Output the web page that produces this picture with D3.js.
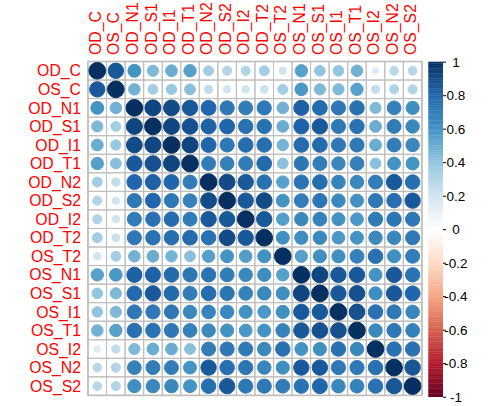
<!DOCTYPE html>
<html>
<head>
<meta charset="utf-8">
<script src="https://cdn.jsdelivr.net/npm/d3@7/dist/d3.min.js"></script>
<style>
html,body{margin:0;padding:0;background:#fff;}
svg{display:block;font-family:"Liberation Sans",Arial,sans-serif;}
</style>
</head>
<body>
<svg id="chart" width="501" height="406"></svg>
<script>
const variables = ["OD_C","OS_C","OD_N1","OD_S1","OD_I1","OD_T1","OD_N2","OD_S2","OD_I2","OD_T2","OS_T2","OS_N1","OS_S1","OS_I1","OS_T1","OS_I2","OS_N2","OS_S2"];

const r_OD_C  = [1.00,0.85,0.60,0.45,0.50,0.55,0.35,0.30,0.30,0.35,0.20,0.55,0.40,0.40,0.48,0.15,0.28,0.28];
const r_OS_C  = [0.85,1.00,0.48,0.35,0.38,0.42,0.25,0.20,0.20,0.22,0.35,0.58,0.45,0.45,0.55,0.25,0.30,0.30];
const r_OD_N1 = [0.60,0.48,1.00,0.92,0.90,0.85,0.80,0.72,0.70,0.72,0.48,0.82,0.78,0.72,0.75,0.45,0.68,0.62];
const r_OD_S1 = [0.45,0.35,0.92,1.00,0.92,0.88,0.82,0.80,0.75,0.75,0.50,0.82,0.85,0.72,0.75,0.50,0.70,0.65];
const r_OD_I1 = [0.50,0.38,0.90,0.92,1.00,0.92,0.80,0.72,0.77,0.76,0.47,0.78,0.78,0.72,0.72,0.50,0.70,0.65];
const r_OD_T1 = [0.55,0.42,0.85,0.88,0.92,1.00,0.70,0.68,0.70,0.78,0.42,0.73,0.70,0.65,0.68,0.42,0.60,0.60];
const r_OD_N2 = [0.35,0.25,0.80,0.82,0.80,0.70,1.00,0.90,0.85,0.75,0.55,0.74,0.77,0.67,0.65,0.70,0.85,0.76];
const r_OD_S2 = [0.30,0.20,0.72,0.80,0.72,0.68,0.90,1.00,0.85,0.90,0.60,0.70,0.73,0.65,0.61,0.72,0.76,0.85];
const r_OD_I2 = [0.30,0.20,0.70,0.75,0.77,0.70,0.85,0.85,1.00,0.85,0.56,0.65,0.68,0.61,0.58,0.71,0.73,0.72];
const r_OD_T2 = [0.35,0.22,0.72,0.75,0.76,0.78,0.75,0.90,0.85,1.00,0.61,0.63,0.65,0.58,0.60,0.65,0.66,0.72];
const r_OS_T2 = [0.20,0.35,0.48,0.50,0.47,0.42,0.55,0.60,0.56,0.61,1.00,0.55,0.62,0.62,0.68,0.75,0.62,0.70];
const r_OS_N1 = [0.55,0.58,0.82,0.82,0.78,0.73,0.74,0.70,0.65,0.63,0.55,1.00,0.92,0.85,0.85,0.60,0.85,0.74];
const r_OS_S1 = [0.40,0.45,0.78,0.85,0.78,0.70,0.77,0.73,0.68,0.65,0.62,0.92,1.00,0.85,0.88,0.62,0.85,0.80];
const r_OS_I1 = [0.40,0.45,0.72,0.72,0.72,0.65,0.67,0.65,0.61,0.58,0.62,0.85,0.85,1.00,0.88,0.75,0.72,0.66];
const r_OS_T1 = [0.48,0.55,0.75,0.75,0.72,0.68,0.65,0.61,0.58,0.60,0.68,0.85,0.88,0.88,1.00,0.65,0.72,0.68];
const r_OS_I2 = [0.15,0.25,0.45,0.50,0.50,0.42,0.70,0.72,0.71,0.65,0.75,0.60,0.62,0.75,0.65,1.00,0.75,0.75];
const r_OS_N2 = [0.28,0.30,0.68,0.70,0.70,0.60,0.85,0.76,0.73,0.66,0.62,0.85,0.85,0.72,0.72,0.75,1.00,0.86];
const r_OS_S2 = [0.28,0.30,0.62,0.65,0.65,0.60,0.76,0.85,0.72,0.72,0.70,0.74,0.80,0.66,0.68,0.75,0.86,1.00];

const corrRows = [r_OD_C,r_OS_C,r_OD_N1,r_OD_S1,r_OD_I1,r_OD_T1,r_OD_N2,r_OD_S2,r_OD_I2,r_OD_T2,r_OS_T2,r_OS_N1,r_OS_S1,r_OS_I1,r_OS_T1,r_OS_I2,r_OS_N2,r_OS_S2];

const legendTicks = [1,0.8,0.6,0.4,0.2,0,-0.2,-0.4,-0.6,-0.8,-1];
const legendTickLabels = ["1","0.8","0.6","0.4","0.2","0","-0.2","-0.4","-0.6","-0.8","-1"];
const paletteColors = ["#67001F","#B2182B","#D6604D","#F4A582","#FDDBC7","#FFFFFF","#D1E5F0","#92C5DE","#4393C3","#2166AC","#053061"];

const svg = d3.select("#chart");
const gridX0 = 88, gridY0 = 61.5, cell = 18.55;
const n = variables.length;

const x = d3.scaleBand().domain(variables).range([gridX0, gridX0 + n*cell]).padding(0);
const y = d3.scaleBand().domain(variables).range([gridY0, gridY0 + n*cell]).padding(0);

const color = d3.scaleLinear()
  .domain(d3.range(paletteColors.length).map(i => -1 + 2*i/(paletteColors.length-1)))
  .range(paletteColors)
  .interpolate(d3.interpolateRgb)
  .clamp(true);

const cells = [];
corrRows.forEach((row, i) => row.forEach((v, j) => cells.push({r: variables[i], c: variables[j], v})));

// grid
const gridG = svg.append("g");
gridG.selectAll("rect.cell").data(cells).join("rect")
  .attr("x", d => x(d.c)).attr("y", d => y(d.r))
  .attr("width", x.bandwidth()).attr("height", y.bandwidth())
  .attr("fill", "none").attr("stroke", "#BEBEBE").attr("stroke-width", 1);
gridG.append("rect")
  .attr("x", gridX0).attr("y", gridY0).attr("width", n*cell).attr("height", n*cell)
  .attr("fill","none").attr("stroke","#BEBEBE").attr("stroke-width",1.6);

// circles
svg.append("g").selectAll("circle").data(cells).join("circle")
  .attr("cx", d => x(d.c) + x.bandwidth()/2)
  .attr("cy", d => y(d.r) + y.bandwidth()/2)
  .attr("r", d => 0.45*Math.sqrt(Math.abs(d.v))*cell)
  .attr("fill", d => color(d.v))
  .attr("stroke", d => color(d.v))
  .attr("stroke-width", 1);

// labels
const fs = 15.8;
svg.append("g").selectAll("text").data(variables).join("text")
  .attr("x", 81)
  .attr("y", d => y(d) + y.bandwidth()/2 + 0.358*fs)
  .attr("text-anchor","end")
  .attr("font-size", fs)
  .attr("fill","#FF0000")
  .text(d => d);

svg.append("g").selectAll("text").data(variables).join("text")
  .attr("transform", d => `translate(${x(d) + x.bandwidth()/2 - 2 + 0.358*fs},55) rotate(-90)`)
  .attr("text-anchor","start")
  .attr("font-size", fs)
  .attr("fill","#FF0000")
  .text(d => d);

// color legend
const lx0 = 428.3, lx1 = 443;
const ly = d3.scaleLinear().domain([-1,1]).range([396.7, 61.7]);
const steps = 200;
const stepVals = d3.range(steps).map(i => -1 + 2*(i+0.5)/steps);
const legG = svg.append("g");
legG.selectAll("rect").data(stepVals).join("rect")
  .attr("x", lx0).attr("width", lx1 - lx0)
  .attr("y", d => ly(d + 1/steps) )
  .attr("height", Math.abs(ly(0) - ly(2/steps)) + 0.3)
  .attr("fill", d => color(d));

const lAxis = d3.axisRight(ly).tickValues(legendTicks).tickSize(3)
  .tickFormat((d,i) => legendTickLabels[i]);
const axG = svg.append("g").attr("transform", `translate(${lx1},0)`).call(lAxis);
axG.select(".domain").remove();
axG.selectAll(".tick line").attr("stroke","#000");
axG.selectAll(".tick text")
  .attr("x", 13).attr("text-anchor","middle")
  .attr("font-size", 13.5).attr("fill","#000")
  .attr("font-family",'"Liberation Sans",Arial,sans-serif');
</script>
</body>
</html>
